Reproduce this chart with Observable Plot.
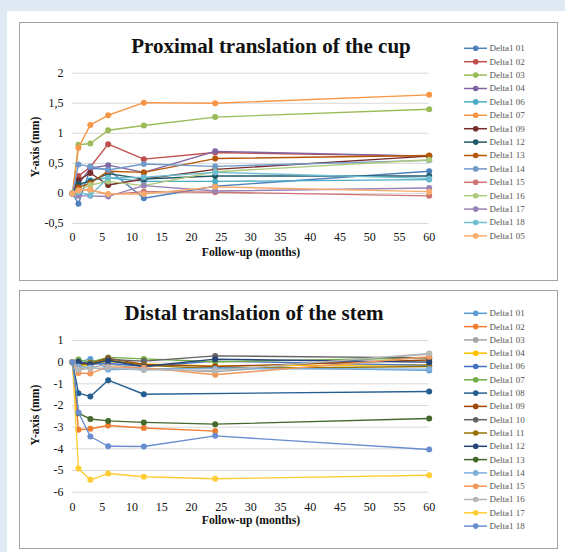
<!DOCTYPE html>
<html>
<head>
<meta charset="utf-8">
<script src="https://cdn.jsdelivr.net/npm/d3@7"></script>
<script src="https://cdn.jsdelivr.net/npm/@observablehq/plot@0.6"></script>
<style>
  html, body { margin: 0; padding: 0; }
  body { width: 565px; height: 552px; background: #dfe9f3; position: relative; overflow: hidden;
         font-family: "Liberation Serif", "Times New Roman", serif; }
  #sheet { position: absolute; left: 7px; top: 11px; width: 558px; height: 541px; background: #fff; }
  .box { position: absolute; left: 19px; width: 539px; height: 259px; border: 1px solid #a3a3a3; box-sizing: border-box; background: #fff; }
  .abs { position: absolute; white-space: nowrap; line-height: 1; color: #111; }
  .title { font-size: 21px; font-weight: bold; transform: translateX(-50%); }
  .xtitle { font-size: 11.7px; font-weight: bold; transform: translateX(-50%); }
  .ytitle { font-size: 11.7px; font-weight: bold; transform: translate(-50%, -50%) rotate(-90deg); }
  .plot { position: absolute; }
  .plot svg, .plot svg text { font-family: "Liberation Serif", "Times New Roman", serif !important; }
  .legend { position: absolute; left: 440px; width: 120px; }
</style>
</head>
<body>
<div id="sheet"></div>
<div class="box" style="top:22px"></div>
<div class="box" style="top:290px"></div>

<div class="abs title" style="left:271px; top:36px">Proximal translation of the cup</div>
<div class="abs xtitle" style="left:251px; top:247px">Follow-up (months)</div>
<div class="abs ytitle" style="left:36px; top:147px">Y-axis (mm)</div>

<div class="abs title" style="left:254px; top:303px">Distal translation of the stem</div>
<div class="abs xtitle" style="left:251px; top:515px">Follow-up (months)</div>
<div class="abs ytitle" style="left:36px; top:415px">Y-axis (mm)</div>

<div id="cupPlot" class="plot" style="left:20px; top:60px"></div>
<div id="stemPlot" class="plot" style="left:20px; top:327px"></div>
<div id="cupLegend" class="legend" style="top:38px"></div>
<div id="stemLegend" class="legend" style="top:303px"></div>

<script>
// Follow-up time points (months)
const months = [0, 1, 3, 6, 12, 24, 60];

// Cup: proximal translation (mm)
const cupSeries = ["Delta1 01", "Delta1 02", "Delta1 03", "Delta1 04", "Delta1 06", "Delta1 07", "Delta1 09",
  "Delta1 12", "Delta1 13", "Delta1 14", "Delta1 15", "Delta1 16", "Delta1 17", "Delta1 18", "Delta1 05"];
const cupValues = [
  [0, -0.17, 0.42, 0.40, -0.08, 0.12, 0.37],
  [0, 0.29, 0.44, 0.82, 0.57, 0.68, 0.62],
  [0, 0.81, 0.83, 1.05, 1.13, 1.27, 1.40],
  [0, 0.15, 0.42, 0.47, 0.35, 0.70, 0.62],
  [0, 0.12, 0.22, 0.26, 0.20, 0.20, 0.23],
  [0, 0.76, 1.14, 1.30, 1.51, 1.50, 1.64],
  [0, 0.22, 0.34, 0.14, 0.24, 0.40, 0.62],
  [0, 0.16, 0.20, 0.33, 0.24, 0.29, 0.29],
  [0, 0.10, 0.17, 0.37, 0.35, 0.58, 0.63],
  [0, 0.48, 0.45, 0.39, 0.49, 0.45, 0.55],
  [0, 0.05, 0.06, -0.02, 0.03, 0.02, -0.04],
  [0, 0.05, 0.14, 0.20, 0.13, 0.36, 0.56],
  [0, -0.04, -0.04, -0.05, 0.13, 0.04, 0.09],
  [0, 0.02, -0.03, 0.26, 0.27, 0.35, 0.25],
  [0, 0.05, 0.06, -0.01, -0.01, 0.11, 0.03]
];
const cupColors = ["#4F81BD", "#C0504D", "#9BBB59", "#8064A2", "#4BACC6", "#F79646", "#772C2A",
  "#215968", "#B65708", "#729ACA", "#CD7371", "#AFC97A", "#9983B5", "#6FBDD1", "#F9AB6B"];
const cupTicks = [-0.5, 0, 0.5, 1, 1.5, 2];

// Stem: distal translation (mm); null = not measured
const stemSeries = ["Delta1 01", "Delta1 02", "Delta1 03", "Delta1 04", "Delta1 06", "Delta1 07", "Delta1 08",
  "Delta1 09", "Delta1 10", "Delta1 11", "Delta1 12", "Delta1 13", "Delta1 14", "Delta1 15", "Delta1 16",
  "Delta1 17", "Delta1 18"];
const stemValues = [
  [0, 0.00, 0.15, -0.30, -0.35, -0.22, -0.38],
  [0, -3.12, -3.07, -2.92, -3.04, -3.18, null],
  [0, -0.30, -0.25, -0.10, -0.30, -0.45, 0.38],
  [0, -0.22, -0.12, 0.03, -0.08, -0.17, -0.12],
  [0, -0.05, -0.10, -0.05, -0.20, 0.05, -0.15],
  [0, 0.12, 0.00, 0.22, 0.15, 0.02, 0.20],
  [0, -1.43, -1.58, -0.83, -1.48, null, -1.35],
  [0, -0.10, -0.05, 0.18, -0.10, -0.20, 0.10],
  [0, 0.00, -0.05, 0.12, 0.05, 0.29, 0.20],
  [0, -0.15, -0.05, 0.10, -0.15, -0.30, -0.20],
  [0, 0.02, -0.10, 0.08, -0.20, 0.14, 0.00],
  [0, -2.36, -2.62, -2.71, -2.78, -2.86, -2.60],
  [0, -0.20, -0.25, -0.35, -0.30, -0.30, -0.32],
  [0, -0.50, -0.52, -0.22, -0.25, -0.58, 0.25],
  [0, -0.35, -0.30, -0.25, -0.35, -0.38, 0.40],
  [0, -4.91, -5.43, -5.14, -5.29, -5.38, -5.22],
  [0, -2.32, -3.43, -3.88, -3.89, -3.40, -4.03]
];
const stemColors = ["#5B9BD5", "#ED7D31", "#A5A5A5", "#FFC000", "#4472C4", "#70AD47", "#255E91",
  "#9E480E", "#636363", "#997300", "#264478", "#43682B", "#7CAFDD", "#F1975A", "#B7B7B7",
  "#FFCD33", "#698ED0"];
const stemTicks = [-6, -5, -4, -3, -2, -1, 0, 1];

const xTicks = d3.range(0, 61, 5);
const commaFormat = d => String(d).replace(".", ",");

// One line plus its markers per series, drawn in legend order
function seriesMarks(names, values, colors) {
  const marks = [];
  names.forEach((name, k) => {
    const rows = months
      .map((m, i) => ({series: name, month: m, value: values[k][i]}))
      .filter(d => d.value != null);
    marks.push(Plot.line(rows, {x: "month", y: "value", stroke: colors[k], strokeWidth: 1.4}));
    marks.push(Plot.dot(rows, {x: "month", y: "value", fill: colors[k], r: 3}));
  });
  return marks;
}

function chart(names, values, colors, yTicks, opts) {
  return Plot.plot({
    width: 420,
    height: 205,
    marginLeft: 52,
    marginRight: 11.3,
    marginTop: opts.marginTop,
    marginBottom: opts.marginBottom,
    style: {fontFamily: "'Liberation Serif', 'Times New Roman', serif", fontSize: "12px",
            background: "transparent", color: "#111", overflow: "visible"},
    x: {domain: [0, 60], ticks: xTicks, tickSize: 0, tickPadding: opts.xPad, label: null},
    y: {domain: [yTicks[0], yTicks[yTicks.length - 1]], ticks: yTicks, tickSize: 0, tickPadding: 9,
        tickFormat: commaFormat, label: null},
    marks: [
      Plot.ruleY(yTicks, {stroke: "#d9d9d9", strokeWidth: 1}),
      ...seriesMarks(names, values, colors)
    ]
  });
}

document.getElementById("cupPlot").append(
  chart(cupSeries, cupValues, cupColors, cupTicks, {marginTop: 12.7, marginBottom: 42, xPad: 9}));
document.getElementById("stemPlot").append(
  chart(stemSeries, stemValues, stemColors, stemTicks, {marginTop: 13, marginBottom: 40.3, xPad: 10}));

// Legends: a short line with a marker and the series name
function legend(id, names, colors, y0, step) {
  const svg = d3.select(id).append("svg")
    .attr("width", 120).attr("height", step * names.length + 20);
  const g = svg.selectAll("g").data(names).join("g")
    .attr("transform", (d, i) => `translate(0,${y0 + i * step})`);
  g.append("line").attr("x1", 24).attr("x2", 47).attr("y1", 0).attr("y2", 0)
    .attr("stroke", (d, i) => colors[i]).attr("stroke-width", 1.5);
  g.append("circle").attr("cx", 35.7).attr("cy", 0).attr("r", 2.8)
    .attr("fill", (d, i) => colors[i]);
  g.append("text").attr("x", 49.5).attr("y", 0).attr("dy", "0.33em")
    .attr("font-family", "'Liberation Serif', 'Times New Roman', serif")
    .attr("font-size", 9).attr("fill", "#555").text(d => d);
}
legend("#cupLegend", cupSeries, cupColors, 10.3, 13.4);
legend("#stemLegend", stemSeries, stemColors, 10.3, 13.3);
</script>
</body>
</html>
